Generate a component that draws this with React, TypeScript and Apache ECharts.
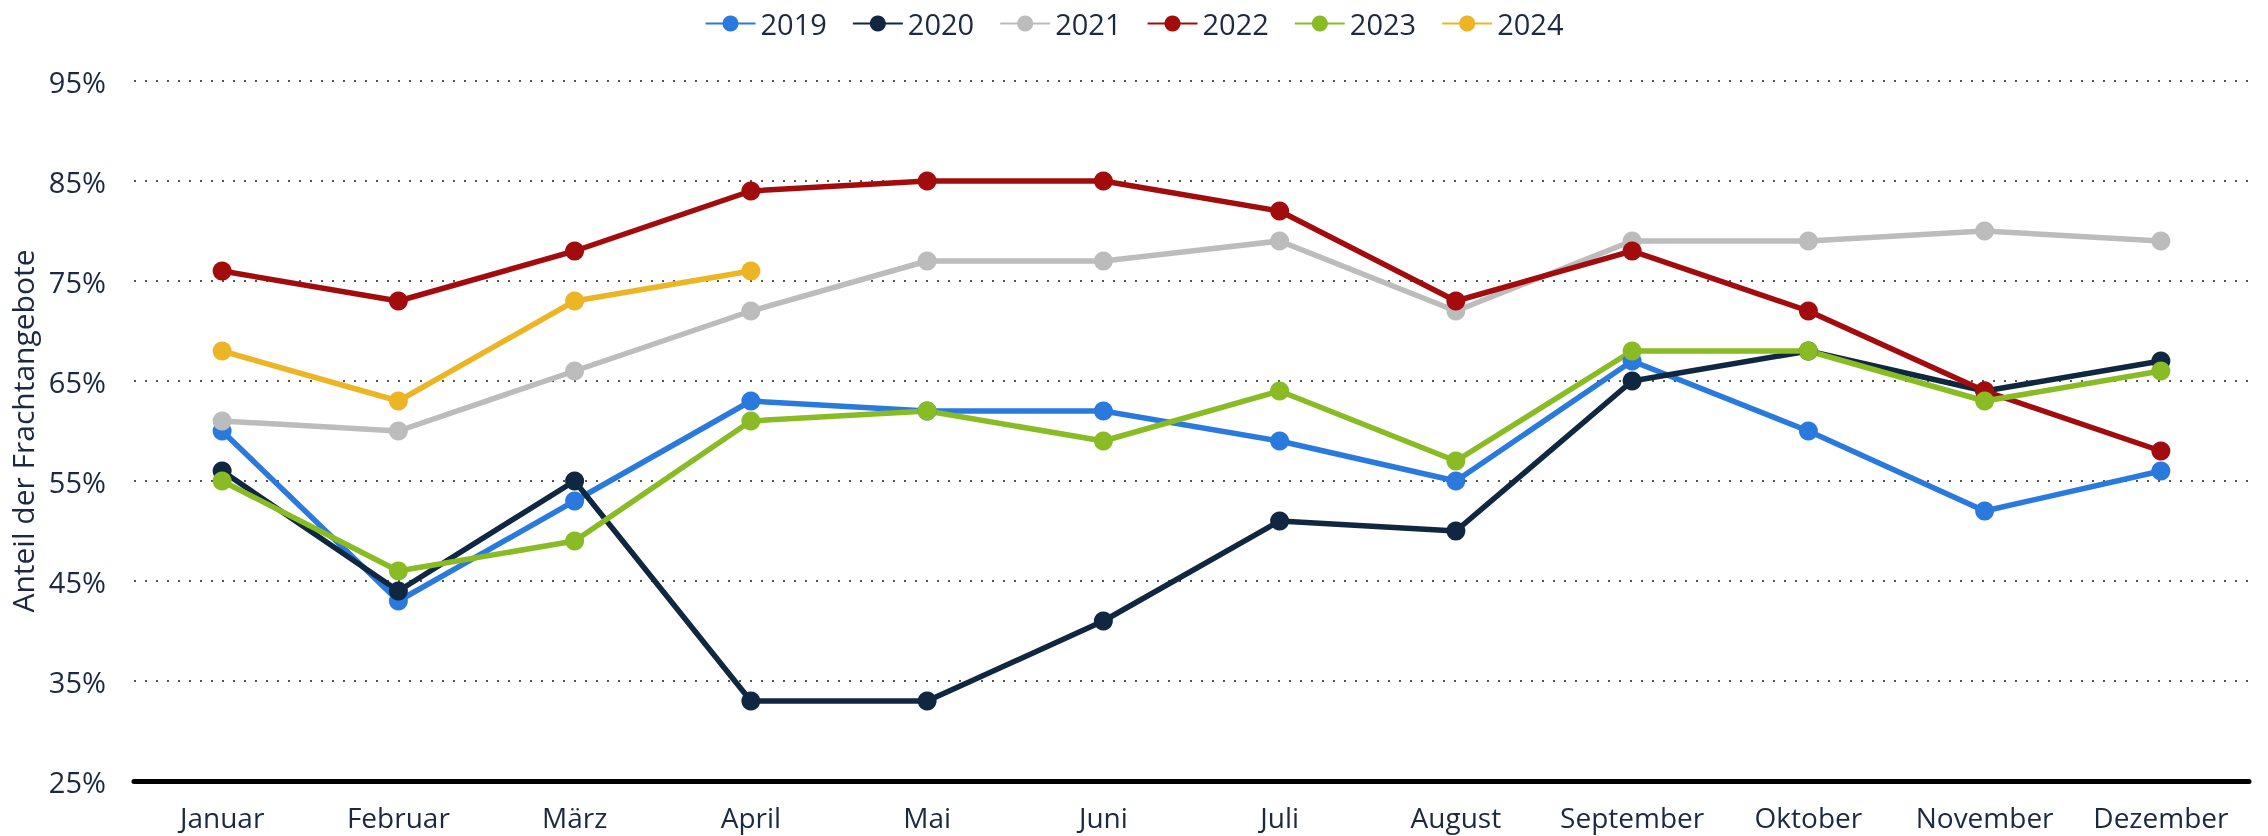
import React, { useEffect, useRef } from "react";
import * as echarts from "echarts";

const months = ["Januar", "Februar", "März", "April", "Mai", "Juni", "Juli", "August", "September", "Oktober", "November", "Dezember"];
const yearNames = ["2019", "2020", "2021", "2022", "2023", "2024"];
const values2019 = [60, 43, 53, 63, 62, 62, 59, 55, 67, 60, 52, 56];
const values2020 = [56, 44, 55, 33, 33, 41, 51, 50, 65, 68, 64, 67];
const values2021 = [61, 60, 66, 72, 77, 77, 79, 72, 79, 79, 80, 79];
const values2022 = [76, 73, 78, 84, 85, 85, 82, 73, 78, 72, 64, 58];
const values2023 = [55, 46, 49, 61, 62, 59, 64, 57, 68, 68, 63, 66];
const values2024 = [68, 63, 73, 76];
const colors = ["#2a79dd", "#0f2740", "#bcbcbc", "#a30c0c", "#88bb24", "#ebb526"];
const yTicks = { min: 25, max: 95, interval: 10 };

export default function App() {
  const ref = useRef<HTMLDivElement>(null);
  useEffect(() => {
    if (!ref.current) return;
    const chart = echarts.init(ref.current, undefined, { renderer: "svg" });
    const allValues = [values2019, values2020, values2021, values2022, values2023, values2024];
    const textColor = "#1b2a40";
    const font = "'Open Sans', sans-serif";
    chart.setOption({
      animation: false,
      textStyle: { fontFamily: font },
      legend: {
        top: 4,
        left: "center",
        itemWidth: 50,
        itemHeight: 20,
        itemGap: 25,
        textStyle: { fontSize: 29, color: textColor, fontFamily: font },
        data: yearNames,
      },
      grid: { left: 134, right: 19, top: 81, bottom: 55, outerBoundsMode: "none", containLabel: false },
      xAxis: {
        type: "category",
        data: months,
        boundaryGap: true,
        axisLine: { show: true, lineStyle: { color: "#000", width: 5 } },
        axisTick: { show: false },
        axisLabel: { interval: 0, fontSize: 28, color: textColor, margin: 22, fontFamily: font },
      },
      yAxis: {
        type: "value",
        min: yTicks.min,
        max: yTicks.max,
        interval: yTicks.interval,
        name: "Anteil der Frachtangebote",
        nameLocation: "middle",
        nameGap: 84,
        nameTextStyle: { fontSize: 30, color: textColor, fontFamily: font },
        axisLine: { show: false },
        axisTick: { show: false },
        axisLabel: { formatter: "{value}%", fontSize: 29, color: textColor, margin: 28, fontFamily: font },
        splitLine: { show: true, lineStyle: { type: [2, 9], color: "#555", width: 2 } },
      },
      series: yearNames.map((name, i) => ({
        name,
        type: "line",
        data: allValues[i],
        symbol: "circle",
        symbolSize: 19,
        showSymbol: true,
        color: colors[i],
        itemStyle: { color: colors[i] },
        lineStyle: { color: colors[i], width: 5.5 },
      })),
    });
    return () => chart.dispose();
  }, []);
  return <div ref={ref} style={{ position: "fixed", left: 0, top: 0, width: 2268, height: 836 }} />;
}
